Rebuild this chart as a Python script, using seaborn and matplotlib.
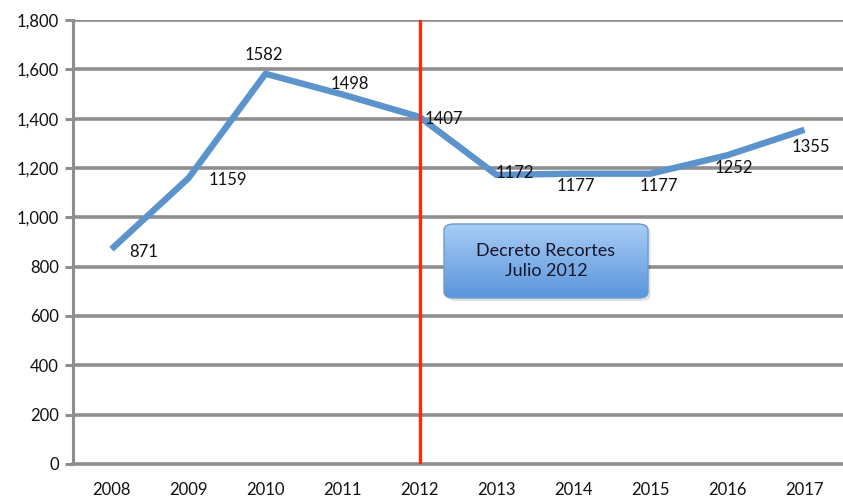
import numpy as np
import pandas as pd
import matplotlib
matplotlib.use("Agg")
import matplotlib.pyplot as plt
import seaborn as sns
from matplotlib.patches import FancyBboxPatch
from matplotlib.ticker import FuncFormatter, FixedLocator

years = ["2008", "2009", "2010", "2011", "2012", "2013", "2014", "2015", "2016", "2017"]
values = [871, 1159, 1582, 1498, 1407, 1172, 1177, 1177, 1252, 1355]
label_offsets = [(32, -3), (39, -2), (-2, 19), (7, 10), (24, -2), (18, 2), (2, -12), (8, -12), (6, -13), (6, -17)]
event_year = "2012"
event_text = "Decreto Recortes\nJulio 2012"

sns.set_theme(style="white")
plt.rcParams['font.family'] = ['Lato', 'DejaVu Sans']

df = pd.DataFrame({"year": years, "value": values})

fig = plt.figure(figsize=(8.43, 4.99), dpi=100)
ax = fig.add_axes([73/843, 1 - 464/499, 1 - 73/843, (464 - 20)/499])

grid_color = "#8e8e8e"
for yv in range(200, 1801, 200):
    ax.axhline(yv, color=grid_color, lw=2.6, zorder=0)

sns.lineplot(data=df, x="year", y="value", ax=ax, color="#5b93cc", lw=4.6,
             sort=False, zorder=3, solid_capstyle="butt")

xpos = years.index(event_year)
ax.axvline(xpos, color="#ff2a0a", lw=2.4, zorder=4)

for i, (v, off) in enumerate(zip(values, label_offsets)):
    ax.annotate(str(v), (i, v), xytext=off, textcoords="offset pixels",
                ha="center", va="center", fontsize=12, color="#111111", zorder=5)

ax.set_xlim(-0.5, 9.5)
ax.set_ylim(0, 1800)
ax.set_yticks(range(0, 1801, 200))
ax.yaxis.set_major_formatter(FuncFormatter(lambda v, p: f"{int(v):,}"))
ax.set_xticks(range(len(years)))
ax.set_xticklabels(years)
ax.xaxis.set_minor_locator(FixedLocator([i + 0.5 for i in range(-1, 10)]))
ax.tick_params(axis="x", which="major", length=0, pad=13, labelsize=12, labelcolor="#111111")
ax.tick_params(axis="x", which="minor", length=6, width=2.2, color=grid_color, direction="out")
ax.tick_params(axis="y", which="major", length=6, width=2.2, color=grid_color, direction="out",
               labelsize=12, labelcolor="#111111", pad=4, left=True)
ax.set_xlabel("")
ax.set_ylabel("")
for s in ["top", "right"]:
    ax.spines[s].set_visible(False)
ax.spines["left"].set_color(grid_color)
ax.spines["left"].set_linewidth(2.2)
ax.spines["bottom"].set_color(grid_color)
ax.spines["bottom"].set_linewidth(2.6)

# gradient box
bx0, by0, bx1, by1 = 444/843, 1 - 298/499, 648/843, 1 - 224/499
shadow = FancyBboxPatch((bx0 + 0.003, by0 - 0.006), bx1 - bx0, by1 - by0,
                        boxstyle="round,pad=0,rounding_size=0.012",
                        transform=fig.transFigure, facecolor="#000000", alpha=0.12,
                        edgecolor="none", zorder=5)
fig.patches.append(shadow)
box = FancyBboxPatch((bx0, by0), bx1 - bx0, by1 - by0,
                     boxstyle="round,pad=0,rounding_size=0.012",
                     transform=fig.transFigure, facecolor="none",
                     edgecolor="#6b9bd2", lw=1.0, zorder=7)
fig.patches.append(box)
grad = np.linspace(0, 1, 256).reshape(-1, 1)
cmap = matplotlib.colors.LinearSegmentedColormap.from_list("g", ["#a8cdf6", "#5a95da"])
gax = fig.add_axes([bx0, by0, bx1 - bx0, by1 - by0], zorder=6)
gax.imshow(grad, aspect="auto", cmap=cmap, extent=[0, 1, 0, 1], origin="upper")
gax.set_axis_off()
clip = FancyBboxPatch((bx0, by0), bx1 - bx0, by1 - by0,
                      boxstyle="round,pad=0,rounding_size=0.012",
                      transform=fig.transFigure, facecolor="none", edgecolor="none")
gax.images[0].set_clip_path(clip)
gax.text(0.5, 0.5, event_text, ha="center", va="center", fontsize=13,
         color="#15152a", linespacing=1.35, transform=gax.transAxes)

fig.savefig("out.png", dpi=100)
